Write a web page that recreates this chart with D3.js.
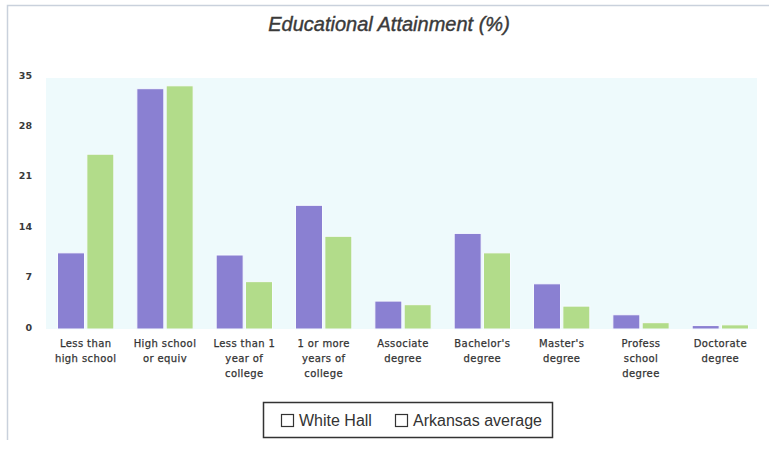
<!DOCTYPE html>
<html>
<head>
<meta charset="utf-8">
<script src="https://cdn.jsdelivr.net/npm/d3@7"></script>
<style>
  html, body { margin: 0; padding: 0; background: #ffffff; }
  svg { display: block; font-family: "Liberation Sans", Arial, sans-serif; }
</style>
</head>
<body>
<svg id="chart" width="769" height="455"></svg>
<script>
// Educational attainment, share of adults 25+ (%)
const categories = [
  ["Less than", "high school"],
  ["High school", "or equiv"],
  ["Less than 1", "year of", "college"],
  ["1 or more", "years of", "college"],
  ["Associate", "degree"],
  ["Bachelor's", "degree"],
  ["Master's", "degree"],
  ["Profess", "school", "degree"],
  ["Doctorate", "degree"]
];
const seriesNames = ["White Hall", "Arkansas average"];
const whiteHall = [10.3, 33.1, 10.0, 16.9, 3.6, 13.0, 6.0, 1.7, 0.2];
const arkansasAvg = [24.0, 33.5, 6.3, 12.6, 3.1, 10.3, 2.9, 0.6, 0.3];
const yTicks = [0, 7, 14, 21, 28, 35];

const colors = ["#8a80d2", "#b2dc8a"];
const svg = d3.select("#chart");

// Outer frame (top and left edges)
svg.append("path")
  .attr("d", "M7.5,440 L7.5,5.5 L769,5.5")
  .attr("fill", "none")
  .attr("stroke", "#c9d1dc")
  .attr("stroke-width", 1.5);

const plot = { left: 46, right: 760, top: 78, bottom: 329 };

const x0 = d3.scaleBand()
  .domain(d3.range(categories.length))
  .range([plot.left, plot.right])
  .paddingInner(0.29)
  .paddingOuter(0.145);

const x1 = d3.scaleBand()
  .domain([0, 1])
  .range([0, x0.bandwidth()])
  .paddingInner(0.08);

const y = d3.scaleLinear().domain([0, 35]).range([327, 75]);

// Plot area background
svg.append("rect")
  .attr("x", plot.left).attr("y", plot.top)
  .attr("width", plot.right - plot.left - 3)
  .attr("height", plot.bottom - plot.top)
  .attr("fill", "#eefafc");

// Title
svg.append("text")
  .attr("x", 389).attr("y", 31)
  .attr("text-anchor", "middle")
  .attr("font-size", 20)
  .attr("font-style", "italic")
  .attr("fill", "#3a3a3a")
  .attr("stroke", "#3a3a3a")
  .attr("stroke-width", 0.4)
  .text("Educational Attainment (%)");

// Y axis labels
const yAxis = d3.axisLeft(y).tickValues(yTicks).tickSize(0).tickPadding(0);
const yg = svg.append("g")
  .attr("transform", "translate(32,0)")
  .call(yAxis);
yg.select(".domain").remove();
yg.selectAll("text")
  .attr("font-size", 9.5)
  .attr("font-weight", "bold")
  .attr("fill", "#3a3a3a")
  .attr("font-family", "DejaVu Sans, sans-serif");

// Bars
const series = [whiteHall, arkansasAvg];
const groups = svg.append("g").selectAll("g")
  .data(categories)
  .join("g")
  .attr("transform", (d, i) => `translate(${x0(i)},0)`);

groups.selectAll("rect")
  .data((d, i) => series.map((s, k) => ({ k, v: s[i] })))
  .join("rect")
  .attr("x", d => x1(d.k))
  .attr("y", d => y(d.v))
  .attr("width", x1.bandwidth())
  .attr("height", d => y(0) - y(d.v) + 2)
  .attr("fill", d => colors[d.k])
  .attr("stroke", "#f6fbff")
  .attr("stroke-width", 1);

// Category labels
const xLabels = svg.append("g");
categories.forEach((lines, i) => {
  const cx = x0(i) + x0.bandwidth() / 2;
  const t = xLabels.append("text")
    .attr("x", cx)
    .attr("y", 347)
    .attr("text-anchor", "middle")
    .attr("font-size", 10)
    .attr("letter-spacing", 0.4)
    .attr("font-family", "DejaVu Sans, sans-serif")
    .attr("fill", "#333333")
    .attr("stroke", "#333333")
    .attr("stroke-width", 0.25);
  lines.forEach((ln, j) => {
    t.append("tspan")
      .attr("x", cx)
      .attr("dy", j === 0 ? 0 : 15)
      .text(ln);
  });
});

// Legend
const legend = svg.append("g");
legend.append("rect")
  .attr("x", 263.5).attr("y", 402.5)
  .attr("width", 289).attr("height", 35)
  .attr("fill", "#ffffff")
  .attr("stroke", "#333333")
  .attr("stroke-width", 1.5);
const legendItems = [
  { name: seriesNames[0], bx: 281 },
  { name: seriesNames[1], bx: 395 }
];
legendItems.forEach(it => {
  legend.append("rect")
    .attr("x", it.bx + 0.5).attr("y", 414.5)
    .attr("width", 12).attr("height", 12)
    .attr("fill", "#ffffff")
    .attr("stroke", "#333333")
    .attr("stroke-width", 1.2);
  legend.append("text")
    .attr("x", it.bx + 18).attr("y", 426)
    .attr("font-size", 16)
    .attr("fill", "#333333")
    .text(it.name);
});
</script>
</body>
</html>
